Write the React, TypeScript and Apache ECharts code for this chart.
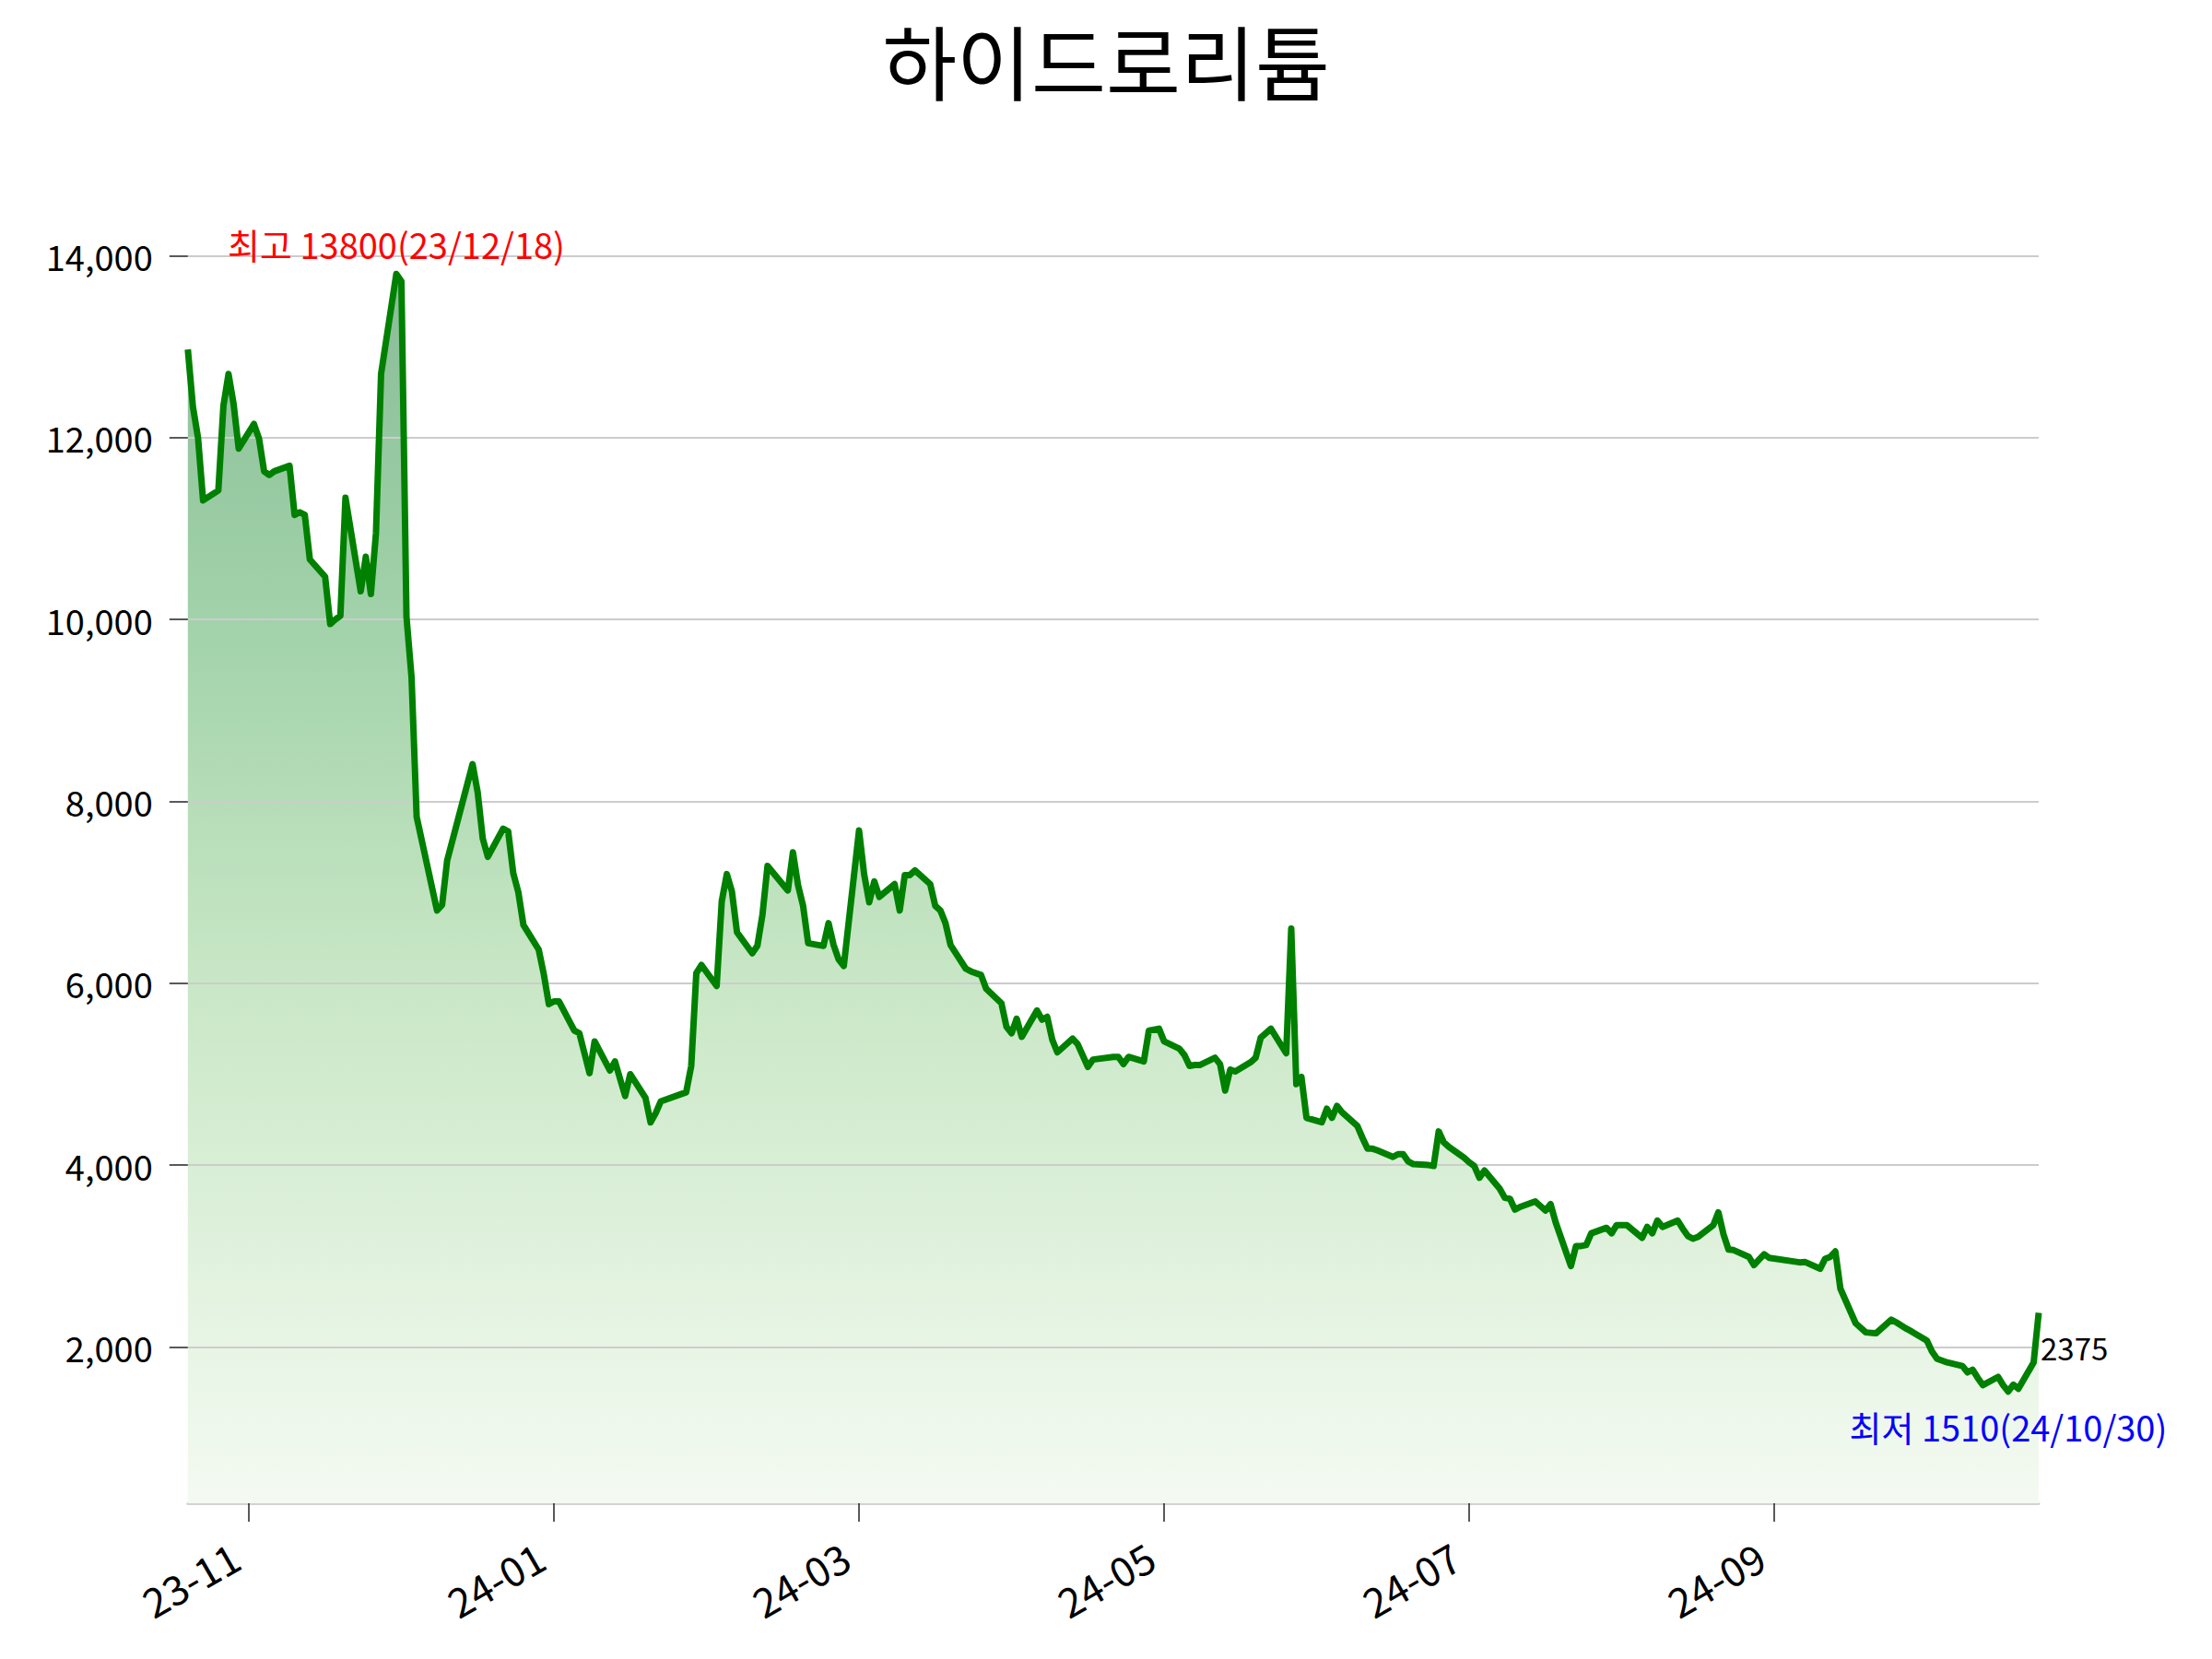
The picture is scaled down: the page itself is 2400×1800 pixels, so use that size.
import React, { useEffect, useRef } from "react";
import * as echarts from "echarts";

const title = "하이드로리튬";

const dates = [
  "2023-11-07","2023-11-08","2023-11-09","2023-11-10","2023-11-13","2023-11-14","2023-11-15","2023-11-16","2023-11-17",
  "2023-11-20","2023-11-21","2023-11-22","2023-11-23","2023-11-24","2023-11-27","2023-11-28","2023-11-29","2023-11-30",
  "2023-12-01","2023-12-04","2023-12-05","2023-12-06","2023-12-07","2023-12-08","2023-12-11","2023-12-12","2023-12-13",
  "2023-12-14","2023-12-15","2023-12-18","2023-12-19","2023-12-20","2023-12-21","2023-12-22","2023-12-26","2023-12-27",
  "2023-12-28","2024-01-02","2024-01-03","2024-01-04","2024-01-05","2024-01-08","2024-01-09","2024-01-10","2024-01-11",
  "2024-01-12","2024-01-15","2024-01-16","2024-01-17","2024-01-18","2024-01-19","2024-01-22","2024-01-23","2024-01-24",
  "2024-01-25","2024-01-26","2024-01-29","2024-01-30","2024-01-31","2024-02-01","2024-02-02","2024-02-05","2024-02-06",
  "2024-02-07","2024-02-08","2024-02-13","2024-02-14","2024-02-15","2024-02-16","2024-02-19","2024-02-20","2024-02-21",
  "2024-02-22","2024-02-23","2024-02-26","2024-02-27","2024-02-28","2024-02-29","2024-03-04","2024-03-05","2024-03-06",
  "2024-03-07","2024-03-08","2024-03-11","2024-03-12","2024-03-13","2024-03-14","2024-03-15","2024-03-18","2024-03-19",
  "2024-03-20","2024-03-21","2024-03-22","2024-03-25","2024-03-26","2024-03-27","2024-03-28","2024-03-29","2024-04-01",
  "2024-04-02","2024-04-03","2024-04-04","2024-04-05","2024-04-08","2024-04-09","2024-04-11","2024-04-12","2024-04-15",
  "2024-04-16","2024-04-17","2024-04-18","2024-04-19","2024-04-22","2024-04-23","2024-04-24","2024-04-25","2024-04-26",
  "2024-04-29","2024-04-30","2024-05-02","2024-05-03","2024-05-07","2024-05-08","2024-05-09","2024-05-10","2024-05-13",
  "2024-05-14","2024-05-16","2024-05-17","2024-05-20","2024-05-21","2024-05-22","2024-05-23","2024-05-24","2024-05-27",
  "2024-05-28","2024-05-29","2024-05-30","2024-05-31","2024-06-03","2024-06-04","2024-06-05","2024-06-07","2024-06-10",
  "2024-06-11","2024-06-12","2024-06-13","2024-06-14","2024-06-17","2024-06-18","2024-06-19","2024-06-20","2024-06-21",
  "2024-06-24","2024-06-25","2024-06-26","2024-06-27","2024-06-28","2024-07-01","2024-07-02","2024-07-03","2024-07-04",
  "2024-07-05","2024-07-08","2024-07-09","2024-07-10","2024-07-11","2024-07-12","2024-07-15","2024-07-16","2024-07-17",
  "2024-07-18","2024-07-19","2024-07-22","2024-07-23","2024-07-24","2024-07-25","2024-07-26","2024-07-29","2024-07-30",
  "2024-07-31","2024-08-01","2024-08-02","2024-08-05","2024-08-06","2024-08-07","2024-08-08","2024-08-09","2024-08-12",
  "2024-08-13","2024-08-14","2024-08-16","2024-08-19","2024-08-20","2024-08-21","2024-08-22","2024-08-23","2024-08-26",
  "2024-08-27","2024-08-28","2024-08-29","2024-08-30","2024-09-02","2024-09-03","2024-09-04","2024-09-05","2024-09-06",
  "2024-09-09","2024-09-10","2024-09-11","2024-09-12","2024-09-13","2024-09-19","2024-09-20","2024-09-23","2024-09-24",
  "2024-09-25","2024-09-26","2024-09-27","2024-09-30","2024-10-02","2024-10-04","2024-10-07","2024-10-08","2024-10-10",
  "2024-10-11","2024-10-14","2024-10-15","2024-10-16","2024-10-17","2024-10-18","2024-10-21","2024-10-22","2024-10-23",
  "2024-10-24","2024-10-25","2024-10-28","2024-10-29","2024-10-30","2024-10-31","2024-11-01","2024-11-04","2024-11-05",
];

const prices = [
  12970, 12340, 12000, 11310, 11420, 12350, 12700, 12370, 11880,
  12150, 11990, 11630, 11590, 11630, 11690, 11150, 11180, 11150,
  10660, 10470, 9950, 10000, 10040, 11340, 10310, 10690, 10280,
  10950, 12700, 13800, 13720, 10030, 9360, 7830, 6800, 6860,
  7350, 8410, 8100, 7590, 7390, 7700, 7670, 7210, 7000,
  6640, 6370, 6100, 5770, 5800, 5800, 5480, 5450, 5230,
  5010, 5360, 5040, 5140, 4950, 4760, 5000, 4740, 4470,
  4570, 4700, 4800, 5090, 6110, 6200, 5970, 6900, 7200,
  7010, 6560, 6330, 6410, 6750, 7290, 7020, 7440, 7080,
  6850, 6440, 6410, 6660, 6420, 6260, 6190, 7680, 7200,
  6890, 7120, 6950, 7090, 6800, 7190, 7190, 7240, 7090,
  6850, 6800, 6660, 6420, 6160, 6130, 6090, 5940, 5780,
  5520, 5450, 5610, 5410, 5700, 5600, 5630, 5380, 5240,
  5390, 5330, 5080, 5160, 5190, 5190, 5110, 5190, 5140,
  5480, 5500, 5360, 5280, 5210, 5090, 5100, 5100, 5180,
  5110, 4820, 5050, 5030, 5130, 5180, 5400, 5500, 5230,
  6600, 4890, 4970, 4520, 4470, 4620, 4520, 4650, 4580,
  4430, 4300, 4180, 4180, 4160, 4090, 4120, 4120, 4040,
  4010, 4000, 3990, 4370, 4250, 4200, 4080, 4030, 3990,
  3860, 3940, 3740, 3640, 3630, 3510, 3540, 3600, 3550,
  3500, 3570, 3370, 2890, 3110, 3110, 3120, 3250, 3310,
  3250, 3340, 3340, 3200, 3320, 3250, 3390, 3320, 3390,
  3300, 3220, 3190, 3210, 3340, 3480, 3240, 3070, 3065,
  2990, 2900, 2960, 3020, 2980, 2930, 2935, 2860, 2970,
  2990, 3050, 2640, 2260, 2160, 2150, 2300, 2270, 2200,
  2170, 2070, 1950, 1870, 1850, 1830, 1790, 1720, 1750,
  1660, 1580, 1670, 1580, 1510, 1585, 1540, 1830, 2375,
];

const tickDates = ["2023-11-19", "2024-01-18", "2024-03-18", "2024-05-17", "2024-07-16", "2024-09-14"];
const tickLabels = ["23-11", "24-01", "24-03", "24-05", "24-07", "24-09"];
const yTicks = [2000, 4000, 6000, 8000, 10000, 12000, 14000];

const FONT = "Noto Sans CJK KR";
const ts = (s: string) => Date.parse(s + "T00:00:00Z");
const shortDate = (s: string) => s.slice(2).replace(/-/g, "/");

export default function App() {
  const ref = useRef<HTMLDivElement>(null);

  useEffect(() => {
    if (!ref.current) return;
    const chart = echarts.init(ref.current, undefined, { renderer: "svg" });

    const data = dates.map((d, i) => [ts(d), prices[i]]);
    const hi = Math.max(...prices);
    const lo = Math.min(...prices);
    const hiIdx = prices.indexOf(hi);
    const loIdx = prices.indexOf(lo);
    const lastIdx = prices.length - 1;
    const pad = (hi - lo) * 0.1;
    const tickTs = tickDates.map(ts);

    const gridTop = 176;
    const gridBottomPx = 1631;

    const fill = new echarts.graphic.LinearGradient(
      0, gridTop, 0, gridBottomPx,
      [
        { offset: 0.0, color: "#84b893" },
        { offset: 0.085, color: "#8abd98" },
        { offset: 0.34, color: "#a1d2a9" },
        { offset: 0.614, color: "#c9e7c6" },
        { offset: 0.84, color: "#e3f3e0" },
        { offset: 1.0, color: "#f4faf2" },
      ],
      true
    );

    chart.setOption({
      animation: false,
      backgroundColor: "#ffffff",
      textStyle: { fontFamily: FONT },
      title: {
        text: title,
        left: "center",
        top: 14,
        textStyle: { fontFamily: FONT, fontSize: 88, fontWeight: "normal", color: "#000" },
      },
      grid: { left: 203.8, right: 188, top: gridTop, bottom: 1800 - gridBottomPx, containLabel: false },
      xAxis: {
        type: "value",
        min: ts(dates[0]),
        max: ts(dates[lastIdx]),
        axisLine: { show: true, lineStyle: { color: "#d3d3d3", width: 3 } },
        axisTick: {
          show: true,
          customValues: tickTs,
          length: 20,
          lineStyle: { color: "#222", width: 1.5 },
        },
        axisLabel: {
          show: true,
          customValues: tickTs,
          rotate: 30,
          margin: 45,
          padding: [0, 17, 0, 0],
          fontSize: 44,
          fontFamily: FONT,
          color: "#000",
          formatter: (v: number) => {
            const k = tickTs.indexOf(v);
            return k >= 0 ? tickLabels[k] : "";
          },
        },
        splitLine: { show: false },
      },
      yAxis: {
        type: "value",
        min: lo - pad,
        max: hi + pad,
        z: 3,
        axisLine: { show: false },
        axisTick: {
          show: true,
          customValues: yTicks,
          length: 20,
          lineStyle: { color: "#222", width: 1.5 },
        },
        axisLabel: {
          show: true,
          customValues: yTicks,
          margin: 38,
          fontSize: 38,
          fontFamily: FONT,
          color: "#000",
          formatter: (v: number) => v.toLocaleString("en-US"),
        },
        splitLine: { show: true, lineStyle: { color: "#cccccc", width: 2 } },
      },
      series: [
        {
          type: "line",
          data,
          showSymbol: false,
          symbol: "none",
          z: 1,
          lineStyle: { width: 0, opacity: 0 },
          areaStyle: { color: fill, opacity: 1 },
          silent: true,
        },
        {
          type: "line",
          data,
          showSymbol: false,
          symbol: "none",
          z: 5,
          lineStyle: { color: "#008000", width: 7, join: "round", cap: "butt" },
          markPoint: {
            symbol: "circle",
            symbolSize: 1,
            itemStyle: { color: "rgba(0,0,0,0)" },
            data: [
              {
                coord: [ts(dates[hiIdx]), hi],
                label: {
                  show: true,
                  position: "inside",
                  offset: [0, -33],
                  formatter: `최고 ${hi}(${shortDate(dates[hiIdx])})`,
                  fontSize: 38,
                  fontFamily: FONT,
                  color: "#ff0000",
                },
              },
              {
                coord: [ts(dates[loIdx]), lo],
                label: {
                  show: true,
                  position: "inside",
                  offset: [0, 38],
                  formatter: `최저 ${lo}(${shortDate(dates[loIdx])})`,
                  fontSize: 38,
                  fontFamily: FONT,
                  color: "#0000ff",
                },
              },
              {
                coord: [ts(dates[lastIdx]), prices[lastIdx]],
                label: {
                  show: true,
                  position: "inside",
                  align: "left",
                  offset: [2, 38],
                  formatter: `${prices[lastIdx]}`,
                  fontSize: 33,
                  fontFamily: FONT,
                  color: "#000000",
                },
              },
            ],
          },
        },
      ],
    });

    return () => chart.dispose();
  }, []);

  return (
    <div
      ref={ref}
      style={{ position: "fixed", left: 0, top: 0, width: 2400, height: 1800, background: "#fff" }}
    />
  );
}
